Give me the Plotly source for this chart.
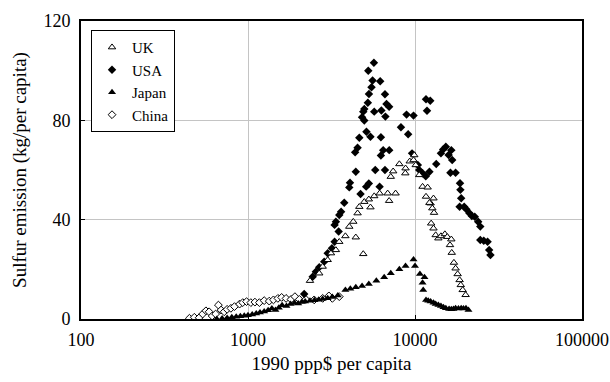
import plotly.graph_objects as go

# ---- data (1990 ppp$ per capita, kg sulfur per capita) ----
uk_x = [2350, 2670, 2800, 3000, 3140, 3360, 3520, 3830, 4040, 4270, 4530, 4640, 4970, 5290,
        5700, 5410, 6140, 6860, 7000, 7650, 4420, 4900, 7160, 7400, 8060, 8750, 8780, 9300,
        9800, 9900, 10100, 10600, 11100, 11900, 11640, 12900, 12400, 12200, 12700, 13000,
        12500, 12900, 13300, 13800, 14300, 15100, 15600, 16500, 16200, 16600, 17100, 17500,
        18000, 18500, 18800, 19300, 20100]
uk_y = [15.4, 18.4, 21.1, 23.8, 26.5, 27.8, 31.1, 33.4, 37.2, 39.2, 42.6, 45.2, 47.2, 48.2,
        49.5, 45.0, 50.6, 50.6, 47.6, 50.6, 32.9, 26.2, 57.3, 59.5, 62.4, 58.7, 60.7, 63.5,
        64.0, 66.0, 62.0, 58.0, 53.3, 53.0, 49.3, 48.6, 46.6, 46.8, 44.6, 42.8,
        38.5, 36.5, 33.8, 32.5, 33.4, 34.2, 33.1, 32.1, 29.8, 26.7, 22.7, 20.4,
        18.1, 15.7, 13.7, 11.7, 9.7]

usa_x = [2170, 2440, 2550, 2670, 2860, 3000, 3180, 3300, 3490, 3300, 3360, 3520, 3610, 3770,
         4040, 4080, 4420, 4380, 4530, 4640, 4820, 4970, 4900, 4970, 5220, 5300, 5490, 5570,
         5250, 5675, 6190, 6610, 6290, 6750, 7000, 6650, 5700, 5120, 5410, 6250, 6450, 7010,
         6250, 4720, 5100, 5290, 6140, 5780, 6610, 8240, 9100, 8900, 9800, 9600, 10400, 10600,
         11100, 11600, 12200, 11640, 12340, 11800, 13400, 14300, 14750, 15300, 16500, 15900,
         16700, 16300, 17500, 18600, 18700, 18900, 18500, 19700, 20300, 21200, 21900, 22800,
         23900, 24600, 24600, 25800, 27200, 27800, 28300]
usa_y = [10.1, 17.0, 19.0, 20.8, 23.1, 26.5, 28.5, 31.1, 35.2, 37.9, 39.2, 41.9, 43.2, 46.8,
         53.0, 54.9, 59.3, 67.1, 69.0, 73.0, 81.2, 79.9, 83.5, 84.6, 87.1, 90.6, 93.3, 96.0,
         100.0, 103.2, 95.7, 90.5, 84.0, 86.6, 85.5, 81.5, 83.5, 75.4, 73.4, 73.2, 68.0, 68.0,
         65.8, 50.3, 53.3, 54.6, 53.3, 60.0, 60.0, 77.2, 74.4, 82.3, 81.9, 66.7, 62.0, 60.0,
         58.7, 57.5, 59.3, 88.5, 87.9, 83.9, 62.4, 66.7, 68.3, 69.4, 68.0, 66.0,
         64.0, 58.9, 58.9, 54.7, 52.0, 48.6, 45.2, 45.2, 44.2, 42.6, 41.5, 41.2,
         39.2, 37.2, 31.8, 31.5, 31.1, 27.8, 25.8]

japan_x = [650, 700, 750, 800, 850, 900, 950, 1000, 1060, 1120, 1180, 1250, 1320, 1390, 1460,
           1530, 1600, 1700, 1800, 1900, 2000, 2100, 2200, 2350, 2500, 2650, 2800, 3000, 3200,
           3450, 3830, 4100, 4420, 4820, 5290, 5870, 6540, 7160, 8060, 8780, 9800, 10000,
           10700, 11400, 11100, 11200, 11640, 12000, 12400, 12900, 13300, 13800, 14300, 14800,
           15300, 16000, 16500, 17000, 17500, 18200, 18900, 19500, 20200, 20900]
japan_y = [0.0, 0.2, 0.4, 0.7, 0.9, 1.1, 1.3, 1.5, 1.8, 2.2, 2.6, 3.0, 3.5, 4.2, 3.6,
           4.5, 5.5, 5.2, 6.0, 6.4, 6.2, 6.8, 7.0, 7.3, 7.6, 7.8, 8.1, 8.4, 8.9,
           9.5, 11.7, 12.2, 12.8, 13.3, 14.1, 15.4, 16.8, 18.4, 20.0, 21.3, 24.0, 21.3,
           18.1, 16.8, 14.6, 11.7, 7.7, 7.3, 7.0, 6.5, 6.0, 5.6, 5.2, 4.7,
           4.3, 4.0, 3.9, 4.0, 4.3, 4.2, 4.3, 4.2, 4.3, 3.6]

china_x = [446, 477, 510, 535, 560, 585, 610, 640, 665, 690, 720, 750, 790, 830, 890, 930, 980,
           1040, 1100, 1170, 1250, 1340, 1420, 1510, 1590, 1690, 1810, 1910, 2030, 2220, 2490,
           2800, 3050, 3200, 3520]
china_y = [0.3, 0.7, 0.5, 2.0, 3.3, 2.9, 1.2, 2.0, 5.6, 3.6, 2.9, 3.9, 4.3, 5.0, 6.0, 6.6, 7.0,
           6.6, 6.8, 6.6, 7.4, 7.2, 7.7, 8.3, 8.7, 8.3, 7.9, 9.0, 7.9, 7.9, 7.7,
           8.3, 9.3, 8.3, 9.0]

x_tickvals = [100, 1000, 10000, 100000]
x_ticktext = ["100", "1000", "10000", "100000"]
y_tickvals = [0, 40, 80, 120]

FONT = "Liberation Serif, Times New Roman, serif"

fig = go.Figure()
fig.add_trace(go.Scatter(x=china_x, y=china_y, mode="markers", name="China", legendrank=4,
                         marker=dict(symbol="diamond", size=6, color="white",
                                     line=dict(color="black", width=1))))
fig.add_trace(go.Scatter(x=japan_x, y=japan_y, mode="markers", name="Japan", legendrank=3,
                         marker=dict(symbol="triangle-up", size=7, color="black",
                                     line=dict(color="black", width=0))))
fig.add_trace(go.Scatter(x=usa_x, y=usa_y, mode="markers", name="USA", legendrank=2,
                         marker=dict(symbol="diamond", size=6.5, color="black",
                                     line=dict(color="black", width=0))))
fig.add_trace(go.Scatter(x=uk_x, y=uk_y, mode="markers", name="UK", legendrank=1,
                         marker=dict(symbol="triangle-up", size=6.5, color="white",
                                     line=dict(color="black", width=1))))

axis_common = dict(showline=True, linecolor="black", linewidth=2, mirror=True,
                   showgrid=True, gridcolor="#c4c4c4", gridwidth=1, zeroline=False,
                   ticks="inside", ticklen=4, tickcolor="black", automargin=False,
                   tickfont=dict(family=FONT, size=18, color="black"))

fig.update_layout(
    width=610, height=382,
    margin=dict(l=81, r=28, t=21, b=63),
    paper_bgcolor="white", plot_bgcolor="white",
    font=dict(family=FONT, size=18, color="black"),
    showlegend=True,
    legend=dict(x=0.02, y=0.97, xanchor="left", yanchor="top",
                bgcolor="white", bordercolor="black", borderwidth=1,
                font=dict(family=FONT, size=15, color="black"),
                tracegroupgap=0),
    xaxis=dict(type="log", range=[2, 5], tickvals=x_tickvals, ticktext=x_ticktext,
               title=dict(text="1990 ppp$ per capita", font=dict(family=FONT, size=19), standoff=8),
               ticklabelstandoff=3, **axis_common),
    yaxis=dict(range=[0, 120], tickvals=y_tickvals,
               title=dict(text="Sulfur emission (kg/per capita)", font=dict(family=FONT, size=19), standoff=12),
               ticklabelstandoff=5, **axis_common),
)

fig.write_html("out.html", config={"displayModeBar": False},
               post_script="document.body.style.margin='0';document.body.style.padding='0';")
